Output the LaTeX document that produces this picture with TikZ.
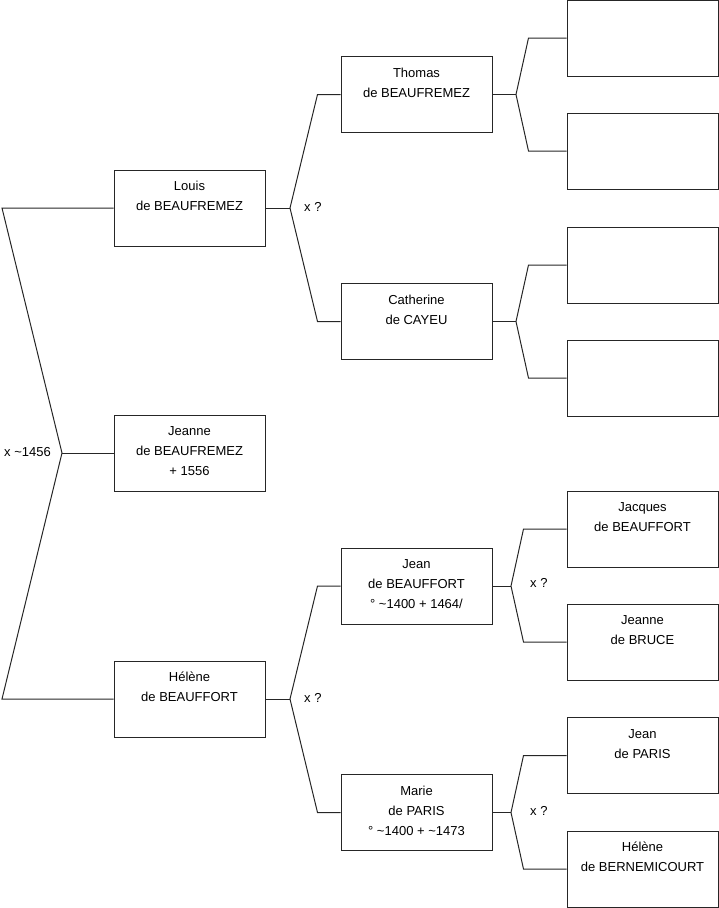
\documentclass[tikz,border=0pt]{standalone}
\usepackage{fontspec}
\setmainfont{Liberation Sans}
\begin{document}
\begin{tikzpicture}[x=1pt,y=-1pt,
  ln/.style={draw=black!85,line width=1pt},
  box/.style={ln,minimum width=151pt,minimum height=76pt,inner sep=0pt,fill=white},
  txt/.style={anchor=base,align=center,inner sep=0pt,font=\fontsize{13}{20}\selectfont,text=black},
  lab/.style={anchor=west,inner sep=0pt,font=\fontsize{13}{15}\selectfont,text=black}]
\useasboundingbox (0,0) rectangle (719,908);
% column 1
\node[box] (louis) at (189.5,208) {};
\node[box] (jeanne) at (189.5,453) {};
\node[box] (helene) at (189.5,699) {};
% column 2
\node[box] (thomas) at (416.5,94.5) {};
\node[box] (catherine) at (416.5,321.5) {};
\node[box] (jean) at (416.5,586) {};
\node[box] (marie) at (416.5,812.5) {};
% column 3
\node[box] (c1) at (642.5,38) {};
\node[box] (c2) at (642.5,151) {};
\node[box] (c3) at (642.5,265) {};
\node[box] (c4) at (642.5,378) {};
\node[box] (jacques) at (642.5,529) {};
\node[box] (jbruce) at (642.5,642) {};
\node[box] (jparis) at (642.5,755.5) {};
\node[box] (hbern) at (642.5,869) {};
% texts (base anchor = baseline of last line)
\node[txt] (tlouis) at ([yshift=-41pt]louis.north) {Louis\\de BEAUFREMEZ};
\node[txt] (tjeanne) at ([yshift=-61pt]jeanne.north) {Jeanne\\de BEAUFREMEZ\\+ 1556};
\node[txt] (thelene) at ([yshift=-41pt]helene.north) {Hélène\\de BEAUFFORT};
\node[txt] (tthomas) at ([yshift=-41pt]thomas.north) {Thomas\\de BEAUFREMEZ};
\node[txt] (tcath) at ([yshift=-41pt]catherine.north) {Catherine\\de CAYEU};
\node[txt] (tjean) at ([yshift=-61pt]jean.north) {Jean\\de BEAUFFORT\\° \textasciitilde1400 + 1464/};
\node[txt] (tmarie) at ([yshift=-61pt]marie.north) {Marie\\de PARIS\\° \textasciitilde1400 + \textasciitilde1473};
\node[txt] (tjacques) at ([yshift=-41pt]jacques.north) {Jacques\\de BEAUFFORT};
\node[txt] (tjbruce) at ([yshift=-41pt]jbruce.north) {Jeanne\\de BRUCE};
\node[txt] (tjparis) at ([yshift=-41pt]jparis.north) {Jean\\de PARIS};
\node[txt] (thbern) at ([yshift=-41pt]hbern.north) {Hélène\\de BERNEMICOURT};
% junctions
\coordinate (ja) at (2,208);
\coordinate (jb) at (2,699);
\coordinate (jm) at (62,453);
\coordinate (fl) at (290,208);
\coordinate (fh) at (290,699);
\coordinate (ft) at (516,94.5);
\coordinate (fc) at (516,321.5);
\coordinate (fj) at (511,586);
\coordinate (fm) at (511,812.5);
% connectors
\draw[ln] (louis.west) -- (ja) -- (jm) -- (jb) -- (helene.west);
\draw[ln] (jm) -- (jeanne.west);
\draw[ln] (louis.east) -- (fl);
\draw[ln] (thomas.west) -- ([xshift=-23pt]thomas.west) -- (fl) -- ([xshift=-23pt]catherine.west) -- (catherine.west);
\draw[ln] (helene.east) -- (fh);
\draw[ln] (jean.west) -- ([xshift=-23pt]jean.west) -- (fh) -- ([xshift=-23pt]marie.west) -- (marie.west);
\draw[ln] (thomas.east) -- (ft);
\draw[ln] (c1.west) -- ([xshift=-38pt]c1.west) -- (ft) -- ([xshift=-38pt]c2.west) -- (c2.west);
\draw[ln] (catherine.east) -- (fc);
\draw[ln] (c3.west) -- ([xshift=-38pt]c3.west) -- (fc) -- ([xshift=-38pt]c4.west) -- (c4.west);
\draw[ln] (jean.east) -- (fj);
\draw[ln] (jacques.west) -- ([xshift=-43pt]jacques.west) -- (fj) -- ([xshift=-43pt]jbruce.west) -- (jbruce.west);
\draw[ln] (marie.east) -- (fm);
\draw[ln] (jparis.west) -- ([xshift=-43pt]jparis.west) -- (fm) -- ([xshift=-43pt]hbern.west) -- (hbern.west);
% labels
\node[lab] (l1) at (4,452) {x \textasciitilde1456};
\node[lab] (l2) at (304,207) {x ?};
\node[lab] (l3) at (304,698) {x ?};
\node[lab] (l4) at (530,583) {x ?};
\node[lab] (l5) at (530,811) {x ?};
\end{tikzpicture}
\end{document}
